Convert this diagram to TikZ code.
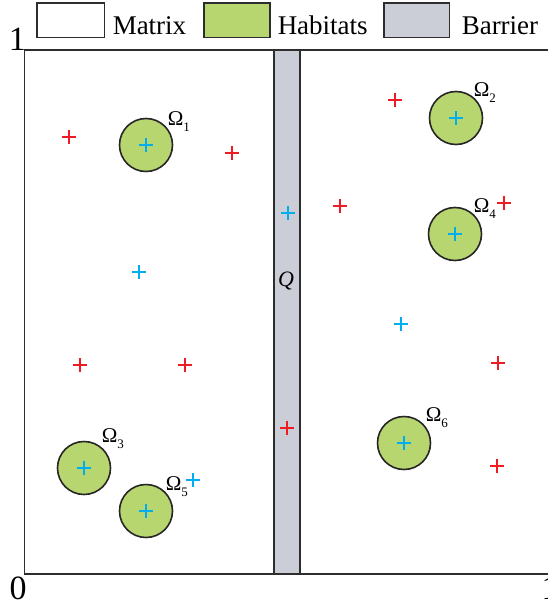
\documentclass[tikz,border=0pt]{standalone}
\usepackage{fontspec}
\setmainfont{Liberation Serif}
\definecolor{habitatgreen}{RGB}{183,214,112}
\definecolor{barriergray}{RGB}{203,206,214}
\definecolor{framegray}{RGB}{45,45,45}
\definecolor{crossred}{RGB}{237,28,36}
\definecolor{crossblue}{RGB}{0,174,239}
\newcommand{\omsub}[1]{Ω\raisebox{-6pt}{\fontsize{13}{13}\selectfont #1}}
\begin{document}
\begin{tikzpicture}[x=1pt, y=-1pt, line width=1.5pt,
  legtext/.style={anchor=base west, inner sep=0pt, font=\fontsize{27}{27}\selectfont},
  axtext/.style={anchor=base, inner sep=0pt, font=\fontsize{34}{34}\selectfont},
  omtext/.style={anchor=base west, inner sep=0pt, font=\fontsize{21}{21}\selectfont},
  habitat/.style={circle, draw=black!85, fill=habitatgreen, line width=1.6pt, minimum size=53pt, inner sep=0pt},
  redx/.style={draw=crossred, line width=1.6pt},
  bluex/.style={draw=crossblue, line width=1.6pt}]
  \useasboundingbox (0,0) rectangle (547,605);
  % legend
  \draw[framegray, fill=white] (37,3) rectangle (104.5,37.5);
  \node[legtext] (lmatrix) at (112,34.5) {Matrix};
  \draw[framegray, fill=habitatgreen] (204,3) rectangle (270,37.5);
  \node[legtext] (lhabitat) at (277,34.5) {Habitats};
  \draw[framegray, fill=barriergray] (384,3) rectangle (449.5,37.5);
  \node[legtext] (lbarrier) at (461,34.5) {Barrier};
  % domain and barrier
  \draw[framegray] (24.5,50) rectangle (549,574);
  \draw[framegray, fill=barriergray] (274,50) rectangle (300,574);
  \node[axtext] (ytop) at (17.5,50) {1};
  \node[axtext] (orig) at (18,599) {0};
  \node[axtext] (xright) at (550,599) {1};
  \node[anchor=base, inner sep=0pt, font=\fontsize{22}{22}\selectfont\itshape] (q) at (286,286) {Q};
  % habitats
  \node[habitat] (om1) at (146,145) {};
  \node[habitat] (om2) at (456,118) {};
  \node[habitat] (om3) at (84,468) {};
  \node[habitat] (om4) at (455,234) {};
  \node[habitat] (om5) at (146,511) {};
  \node[habitat] (om6) at (404,443) {};
  \node[omtext] (lom1) at (167,125) {\omsub{1}};
  \node[omtext] (lom2) at (473,96) {\omsub{2}};
  \node[omtext] (lom3) at (101,442) {\omsub{3}};
  \node[omtext] (lom4) at (473,212) {\omsub{4}};
  \node[omtext] (lom5) at (165,490) {\omsub{5}};
  \node[omtext] (lom6) at (425,421) {\omsub{6}};
  % red crosses
  \draw[redx] (62,137) -- (76,137) (69,130) -- (69,144);
  \draw[redx] (225,153) -- (239,153) (232,146) -- (232,160);
  \draw[redx] (388,100) -- (402,100) (395,93) -- (395,107);
  \draw[redx] (333,206) -- (347,206) (340,199) -- (340,213);
  \draw[redx] (497,203) -- (511,203) (504,196) -- (504,210);
  \draw[redx] (73,365) -- (87,365) (80,358) -- (80,372);
  \draw[redx] (178,365) -- (192,365) (185,358) -- (185,372);
  \draw[redx] (280,428) -- (294,428) (287,421) -- (287,435);
  \draw[redx] (491,363) -- (505,363) (498,356) -- (498,370);
  \draw[redx] (490,466) -- (504,466) (497,459) -- (497,473);
  % blue crosses
  \draw[bluex] (139,145) -- (153,145) (146,138) -- (146,152);
  \draw[bluex] (449,118) -- (463,118) (456,111) -- (456,125);
  \draw[bluex] (77,468) -- (91,468) (84,461) -- (84,475);
  \draw[bluex] (448,234) -- (462,234) (455,227) -- (455,241);
  \draw[bluex] (139,511) -- (153,511) (146,504) -- (146,518);
  \draw[bluex] (397,443) -- (411,443) (404,436) -- (404,450);
  \draw[bluex] (132,272) -- (146,272) (139,265) -- (139,279);
  \draw[bluex] (281,213) -- (295,213) (288,206) -- (288,220);
  \draw[bluex] (394,324) -- (408,324) (401,317) -- (401,331);
  \draw[bluex] (186,480) -- (200,480) (193,473) -- (193,487);
\end{tikzpicture}
\end{document}
